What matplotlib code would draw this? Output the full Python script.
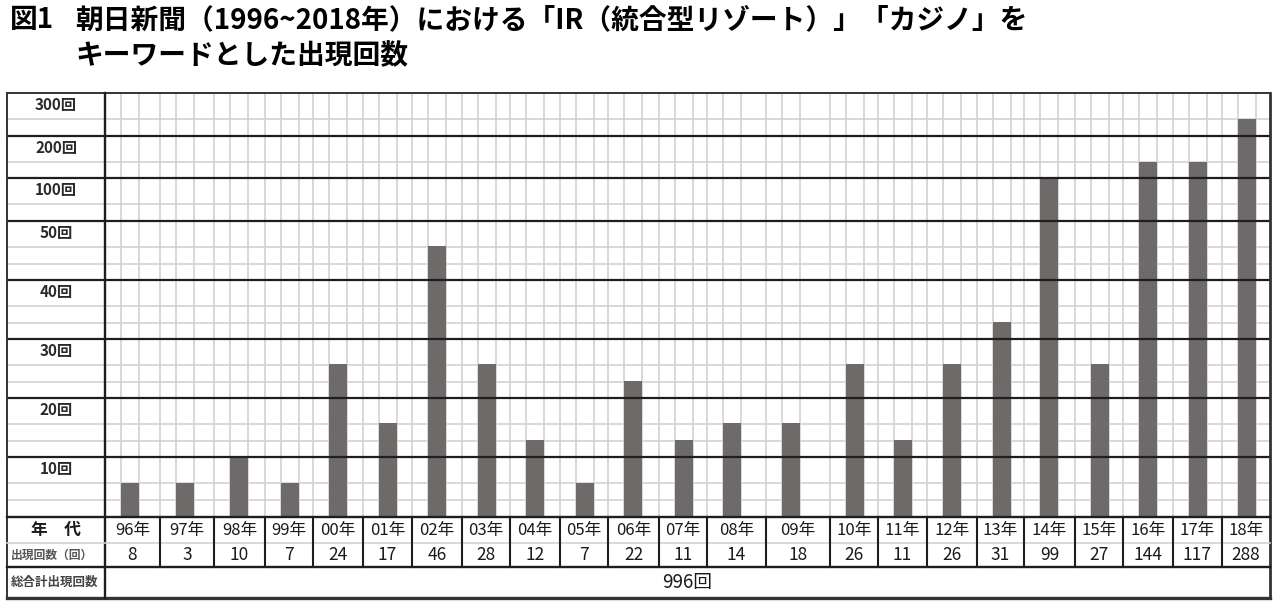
import numpy as np
import matplotlib.pyplot as plt

plt.rcParams['font.family'] = ['Noto Sans CJK JP', 'DejaVu Sans']

# data
years = ['96年', '97年', '98年', '99年', '00年', '01年', '02年', '03年', '04年',
         '05年', '06年', '07年', '08年', '09年', '10年', '11年', '12年', '13年',
         '14年', '15年', '16年', '17年', '18年']
counts = [8, 3, 10, 7, 24, 17, 46, 28, 12, 7, 22, 11, 14, 18, 26, 11, 26, 31,
          99, 27, 144, 117, 288]
# bar heights as drawn on the (broken) axis
bar_heights = [5.7, 5.7, 10, 5.7, 25.8, 15.8, 45.8, 25.8, 12.8, 5.7, 22.8, 12.8,
               15.8, 15.8, 25.8, 12.8, 25.8, 32.9, 100, 25.8, 138.8, 138.8, 239.5]
y_ticks = [10, 20, 30, 40, 50, 100, 200, 300]
y_tick_labels = ['10回', '20回', '30回', '40回', '50回', '100回', '200回', '300回']
title1 = '朝日新聞（1996~2018年）における「IR（統合型リゾート）」「カジノ」を'
title2 = 'キーワードとした出現回数'

# layout (pixels)
W, H = 1280, 608
LEFT, DIV, RIGHT = 7, 105, 1270
TOP, BOT = 93, 517
ROW1, ROW2, TBOT = 543, 567, 598
edges = [105, 160, 214, 265, 313, 363, 412, 462, 510, 560, 608, 659, 707, 766,
         830, 878, 927, 977, 1024, 1075, 1123, 1173, 1222, 1270]

DARK = '#1e1e1e'
LIGHT = '#d2d2d2'
BAR = '#6e6a6a'
TXT = '#1a1a1a'

# piecewise y axis: 0-50 by tens, then 50/100/200/300
brk_vals = [0, 10, 20, 30, 40, 50, 100, 200, 300]
brk_pos = [0, 60, 119, 178, 237, 296, 339, 381, 424]


def fwd(v):
    return np.interp(v, brk_vals, brk_pos)


def inv(p):
    return np.interp(p, brk_pos, brk_vals)


minor_vals = []
for k in range(1, len(brk_vals)):
    offs = [26, 43] if brk_vals[k] <= 50 else [26]
    for o in offs:
        minor_vals.append(float(inv(brk_pos[k] - o)))

fig = plt.figure(figsize=(12.8, 6.08), dpi=100)

ax = fig.add_axes([DIV / W, 1 - BOT / H, (RIGHT - DIV) / W, (BOT - TOP) / H])
ax.set_yscale('function', functions=(fwd, inv))
ax.set_ylim(0, 300)
ax.set_xlim(DIV, RIGHT)
ax.axis('off')

for v in minor_vals:
    ax.axhline(v, color=LIGHT, lw=1.2, zorder=1)
for e in edges[:-1]:
    for dx in (0, 16, 34):
        if e + dx > DIV:
            ax.axvline(e + dx, color=LIGHT, lw=1.2, zorder=1)
ax.bar(np.array(edges[:-1]) + 25, bar_heights, width=18, color=BAR, zorder=2)
for v in y_ticks[:-1]:
    ax.axhline(v, color=DARK, lw=1.6, zorder=3)

# left label column sharing the y scale
lab = fig.add_axes([LEFT / W, 1 - BOT / H, (DIV - LEFT) / W, (BOT - TOP) / H], sharey=ax)
lab.set_xlim(0, 1)
lab.axis('off')
for v in minor_vals:
    lab.axhline(v, color=LIGHT, lw=1.2, zorder=1)
for v in y_ticks[:-1]:
    lab.axhline(v, color=DARK, lw=1.6, zorder=3)
for v, t in zip(y_ticks, y_tick_labels):
    lab.annotate(t, xy=(0.5, v), xytext=(0, -12), textcoords='offset pixels',
                 ha='center', va='center', fontsize=11, color='#2a2a2a',
                 fontweight='bold')

# frame, table and titles in pixel coordinates
bg = fig.add_axes([0, 0, 1, 1])
bg.set_xlim(0, W)
bg.set_ylim(H, 0)
bg.axis('off')
bg.patch.set_alpha(0)

bg.plot([LEFT, RIGHT], [TOP, TOP], color='#333333', lw=1.4)
bg.plot([LEFT, LEFT], [TOP, TBOT], color='#333333', lw=1.4)
bg.plot([RIGHT, RIGHT], [TOP, TBOT], color='#333333', lw=2)
bg.plot([LEFT, RIGHT], [TBOT, TBOT], color='#333333', lw=2.4)
bg.plot([DIV, DIV], [TOP, TBOT], color=DARK, lw=1.7)
bg.plot([LEFT, RIGHT], [BOT, BOT], color=DARK, lw=1.7)
bg.plot([LEFT, RIGHT], [ROW1, ROW1], color=LIGHT, lw=1.2)
bg.plot([LEFT, RIGHT], [ROW2, ROW2], color=DARK, lw=1.7)
for e in edges[1:-1]:
    bg.plot([e, e], [BOT, ROW2], color=DARK, lw=1.5)

for i, (yr, c) in enumerate(zip(years, counts)):
    xc = (edges[i] + edges[i + 1]) / 2
    bg.text(xc, (BOT + ROW1) / 2, yr, ha='center', va='center', fontsize=12, color=TXT)
    bg.text(xc, (ROW1 + ROW2) / 2, str(c), ha='center', va='center', fontsize=12.5,
            color=TXT)

bg.text((LEFT + DIV) / 2, (BOT + ROW1) / 2, '年　代', ha='center', va='center',
        fontsize=12, color=TXT, fontweight='bold')
bg.text(11, (ROW1 + ROW2) / 2, '出現回数（回）', ha='left', va='center',
        fontsize=8.5, color='#555555', fontweight='bold')
bg.text(11, (ROW2 + TBOT) / 2, '総合計出現回数', ha='left', va='center',
        fontsize=9, color='#444444', fontweight='bold')
bg.text((DIV + RIGHT) / 2, (ROW2 + TBOT) / 2, f'{sum(counts)}回', ha='center',
        va='center', fontsize=13.5, color=TXT)

bg.text(10, 20, '図1', ha='left', va='center', fontsize=20, fontweight='bold')
bg.text(75, 20, title1, ha='left', va='center', fontsize=20, fontweight='bold')
bg.text(75, 56, title2, ha='left', va='center', fontsize=20, fontweight='bold')

fig.savefig('out.png', dpi=100)
